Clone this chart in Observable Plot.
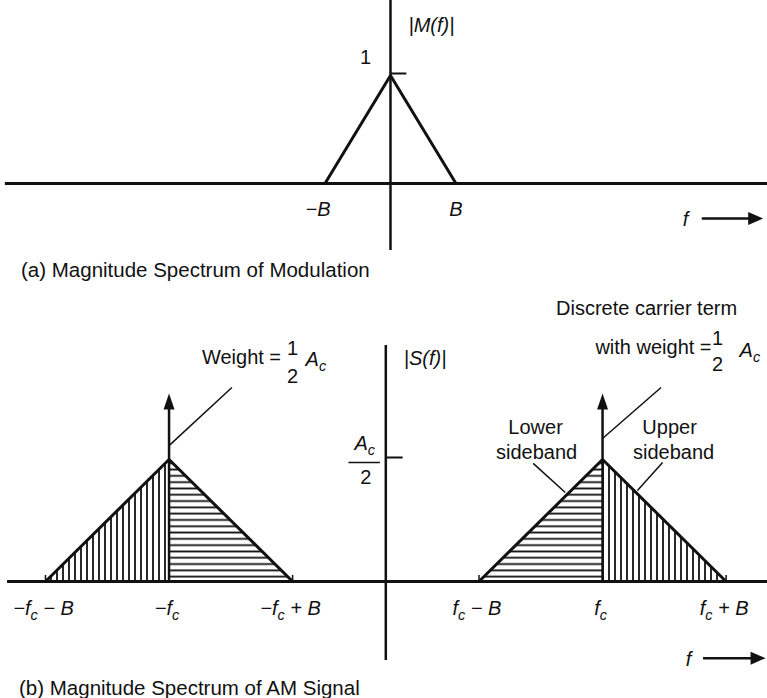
<!DOCTYPE html>
<html>
<head>
<meta charset="utf-8">
<script src="https://cdn.jsdelivr.net/npm/d3@7"></script>
<script src="https://cdn.jsdelivr.net/npm/@observablehq/plot@0.6"></script>
<style>
  html, body { margin: 0; padding: 0; background: #fff; }
  body { width: 767px; height: 698px; overflow: hidden; font-family: "Liberation Sans", Arial, sans-serif; color: #111; }
  .caption { font-size: 20.5px; white-space: nowrap; }
  #capA { height: 40px; line-height: 40px; padding-left: 21px; }
  #capB { height: 23px; line-height: 26px; padding-left: 19px; }
  svg { display: block; }
</style>
</head>
<body>
<div id="top"></div>
<div id="capA" class="caption">(a) Magnitude Spectrum of Modulation</div>
<div id="bottom"></div>
<div id="capB" class="caption">(b) Magnitude Spectrum of AM Signal</div>
<script>
// Message spectrum |M(f)|, frequency in units of B
const mFreq = [-1, 0, 1];
const mMag = [0, 1, 0];
const mTickFreq = [-1, 1];
const mTickLabels = ["−B", "B"];

// AM spectrum |S(f)|, frequency in units of fc, Ac = 1
const fc = 1;
const B = 0.57;
const Ac = 1;
const sFreq = [-fc - B, -fc, -fc + B, fc - B, fc, fc + B];
const sMag = [0, Ac / 2, 0, 0, Ac / 2, 0];
const sSide = ["neg", "neg", "neg", "pos", "pos", "pos"];
const sTickLabels = ["−f_c − B", "−f_c", "−f_c + B", "f_c − B", "f_c", "f_c + B"];
const carrierFreq = [-fc, fc];
const impulseHeight = 0.77; // drawn length of the carrier impulses

const font = '"Liberation Sans", Arial, sans-serif';
const ink = "#111";

// Filled arrowheads with the tip at the symbol origin
const headUp = {draw(ctx) { ctx.moveTo(0, 0); ctx.lineTo(5.5, 16); ctx.lineTo(-5.5, 16); ctx.closePath(); }};
const headRight = {draw(ctx) { ctx.moveTo(0, 0); ctx.lineTo(-15, -6.5); ctx.lineTo(-15, 6.5); ctx.closePath(); }};

const txt = {fill: ink, fontSize: 20};
const ital = {...txt, fontStyle: "italic"};

// ---------- (a) |M(f)| ----------
const mPts = mFreq.map((f, i) => ({f, m: mMag[i]}));
const mArrow = {x1: 4.76, x2: 5.69, y: -0.324};

const topPlot = Plot.plot({
  width: 767, height: 250, margin: 0,
  x: {domain: [-5.954, 5.756], axis: null},
  y: {domain: [-0.6204, 1.6944], axis: null},
  style: {fontFamily: font, fontSize: "20px", color: ink, background: "#fff", overflow: "visible"},
  marks: [
    Plot.ruleY([0], {x1: -5.88, x2: 5.756, stroke: ink, strokeWidth: 3}),
    Plot.ruleX([0], {stroke: ink, strokeWidth: 2.5}),
    Plot.line(mPts, {x: "f", y: "m", stroke: ink, strokeWidth: 3, strokeLinejoin: "miter"}),
    Plot.ruleY([1], {x1: 0, x2: 0.25, dy: -2, stroke: ink, strokeWidth: 2}),
    Plot.text(["1"], {x: 0, y: 1, dx: -25, dy: -18, ...txt}),
    Plot.text(["|M(f)|"], {x: 0, y: 1, dx: 18, dy: -50, textAnchor: "start", ...ital}),
    Plot.text([mTickFreq[0]], {x: d => d, y: 0, dy: 26, dx: -7, text: () => mTickLabels[0], ...ital}),
    Plot.text([mTickFreq[1]], {x: d => d, y: 0, dy: 26, text: () => mTickLabels[1], ...ital}),
    // frequency axis arrow
    Plot.ruleY([mArrow.y], {x1: mArrow.x1, x2: mArrow.x2 - 0.1, stroke: ink, strokeWidth: 2.5}),
    Plot.dot([mArrow], {x: "x2", y: "y", symbol: headRight, fill: ink, stroke: "none"}),
    Plot.text(["f"], {x: 4.504, y: mArrow.y, dy: 1, ...ital})
  ]
});

// ---------- (b) |S(f)| ----------
const sPts = sFreq.map((f, i) => ({f, m: sMag[i], side: sSide[i]}));
const halves = [[0, 1, "vhatch"], [1, 2, "hhatch"], [3, 4, "hhatch"], [4, 5, "vhatch"]];
const baseEnds = [sFreq[0], sFreq[2], sFreq[3], sFreq[5]];
const leaders = [
  {x1: -fc, y1: 0.557, x2: -fc + 0.29, y2: 0.795},
  {x1: fc, y1: 0.586, x2: fc + 0.27, y2: 0.795},
  {x1: fc - 0.32, y1: 0.484, x2: fc - 0.172, y2: 0.365},
  {x1: fc + 0.277, y1: 0.488, x2: fc + 0.161, y2: 0.373}
];
const sArrow = {x1: 1.466, x2: 1.752, y: -0.314};
const apexL = {f: -fc, m: Ac / 2};
const apexR = {f: fc, m: Ac / 2};
const at = (p, o) => Plot.text([p], {x: "f", y: "m", ...o});

const bottomPlot = Plot.plot({
  width: 767, height: 385, margin: 0,
  x: {domain: [-1.7776, 1.761], axis: null},
  y: {domain: [-0.3852, 1.1926], axis: null},
  style: {fontFamily: font, fontSize: "20px", color: ink, background: "#fff", overflow: "visible"},
  marks: [
    ...halves.map(([a, b, pat]) =>
      Plot.areaY(sPts.slice(a, b + 1), {x: "f", y: "m", fill: `url(#${pat})`})),
    Plot.ruleY([0], {x1: -1.745, x2: 1.761, stroke: ink, strokeWidth: 3}),
    Plot.ruleX([0], {y1: -0.324, y2: 0.967, stroke: ink, strokeWidth: 2.5}),
    Plot.ruleX(baseEnds, {y1: 0, y2: 0.025, stroke: ink, strokeWidth: 1.5}),
    Plot.line(sPts, {x: "f", y: "m", z: "side", stroke: ink, strokeWidth: 3, strokeLinejoin: "miter"}),
    // carrier impulses
    Plot.ruleX(carrierFreq, {y1: 0, y2: impulseHeight - 0.03, stroke: ink, strokeWidth: 2.5}),
    Plot.dot(carrierFreq, {x: d => d, y: impulseHeight, symbol: headUp, fill: ink, stroke: "none"}),
    // leader lines
    Plot.link(leaders, {x1: "x1", y1: "y1", x2: "x2", y2: "y2", stroke: ink, strokeWidth: 1.5}),
    // Ac/2 on the magnitude axis
    Plot.ruleY([Ac / 2], {x1: 0, x2: 0.08, dy: -2, stroke: ink, strokeWidth: 2}),
    Plot.ruleY([Ac / 2], {x1: -0.17, x2: -0.025, dy: 3, stroke: ink, strokeWidth: 1.5}),
    Plot.text(["A_c"], {x: 0, y: Ac / 2, dx: -21, dy: -16, ...ital}),
    Plot.text(["2"], {x: 0, y: Ac / 2, dx: -20, dy: 18, ...txt}),
    Plot.text(["|S(f)|"], {x: 0, y: Ac / 2, dx: 18, dy: -101, textAnchor: "start", ...ital}),
    // frequency tick labels
    Plot.text(sFreq, {x: d => d, y: 0, dy: 27, dx: -2, text: (d, i) => sTickLabels[i], ...ital}),
    // left impulse annotation
    at(apexL, {text: () => "Weight =", dx: 112, dy: -102, textAnchor: "end", ...txt}),
    at(apexL, {text: () => "1", dx: 123.5, dy: -111, ...txt}),
    at(apexL, {text: () => "2", dx: 123.5, dy: -83, ...txt}),
    at(apexL, {text: () => "A_c", dx: 136.5, dy: -100, textAnchor: "start", ...ital}),
    // right impulse annotation
    at(apexR, {text: () => "Discrete carrier term", dx: 44, dy: -151, ...txt}),
    at(apexR, {text: () => "with weight =", dx: 109, dy: -112, textAnchor: "end", ...txt}),
    at(apexR, {text: () => "1", dx: 115, dy: -121, ...txt}),
    at(apexR, {text: () => "2", dx: 115, dy: -95, ...txt}),
    at(apexR, {text: () => "A_c", dx: 137, dy: -109, textAnchor: "start", ...ital}),
    // sideband labels
    at(apexR, {text: () => "Lower", dx: -67, dy: -32, ...txt}),
    at(apexR, {text: () => "sideband", dx: -66, dy: -7, ...txt}),
    at(apexR, {text: () => "Upper", dx: 67, dy: -32, ...txt}),
    at(apexR, {text: () => "sideband", dx: 71, dy: -7, ...txt}),
    // frequency axis arrow
    Plot.ruleY([sArrow.y], {x1: sArrow.x1, x2: sArrow.x2 - 0.03, stroke: ink, strokeWidth: 2.5}),
    Plot.dot([sArrow], {x: "x2", y: "y", symbol: headRight, fill: ink, stroke: "none"}),
    Plot.text(["f"], {x: 1.397, y: sArrow.y, dy: 1, ...ital})
  ]
});

// Hatch patterns for the sidebands
const SVGNS = "http://www.w3.org/2000/svg";
const defs = document.createElementNS(SVGNS, "defs");
defs.innerHTML =
  `<pattern id="vhatch" patternUnits="userSpaceOnUse" width="6" height="6">` +
  `<path d="M3 0V6" stroke="${ink}" stroke-width="1.8"/></pattern>` +
  `<pattern id="hhatch" patternUnits="userSpaceOnUse" width="6" height="6.3">` +
  `<path d="M0 3.15H6" stroke="${ink}" stroke-width="1.8"/></pattern>`;
bottomPlot.insertBefore(defs, bottomPlot.firstChild);

// Turn "x_c" into a subscripted tspan
function subscripts(svg) {
  svg.querySelectorAll("text").forEach(t => {
    const s = t.textContent;
    if (!s.includes("_")) return;
    const parts = s.split(/_(\w)/);
    t.textContent = "";
    parts.forEach((p, i) => {
      const ts = document.createElementNS(SVGNS, "tspan");
      ts.textContent = p;
      if (i % 2 === 1) { ts.setAttribute("font-size", "72%"); ts.setAttribute("dy", "5"); }
      else if (i > 0) ts.setAttribute("dy", "-5");
      t.appendChild(ts);
    });
  });
}
subscripts(topPlot);
subscripts(bottomPlot);

document.getElementById("top").appendChild(topPlot);
document.getElementById("bottom").appendChild(bottomPlot);
</script>
</body>
</html>
